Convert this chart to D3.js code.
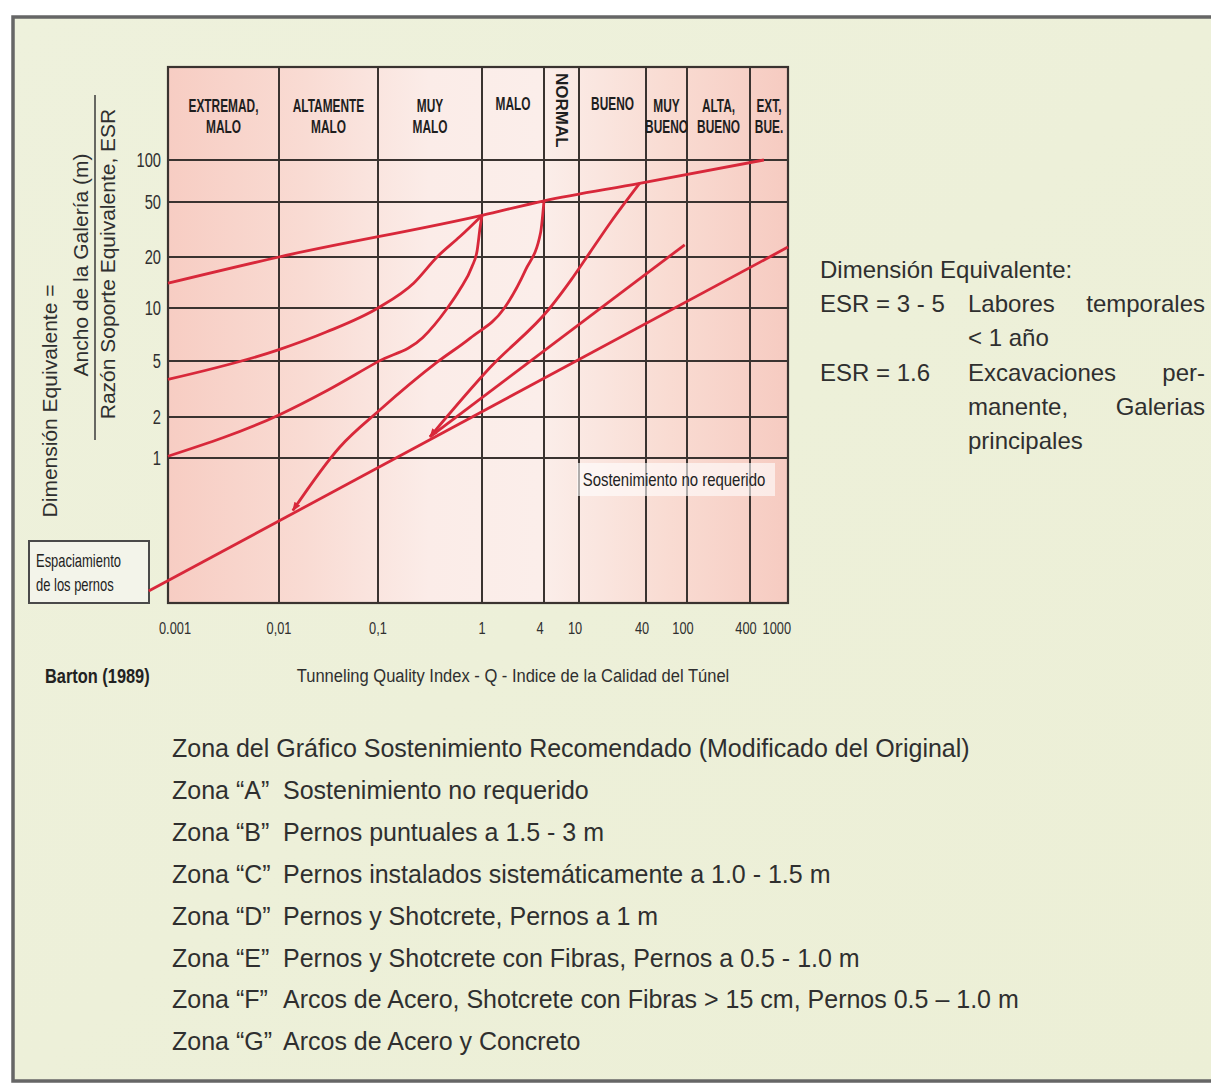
<!DOCTYPE html>
<html>
<head>
<meta charset="utf-8">
<script src="https://cdn.jsdelivr.net/npm/d3@7"></script>
<style>
  html, body { margin: 0; padding: 0; background: #fff; }
  svg { display: block; }
</style>
</head>
<body>
<script>
// Limites de Q (eje x) y etiquetas
const qTicks = [0.001, 0.01, 0.1, 1, 4, 10, 40, 100, 400, 1000];
const qTickLabels = ['0.001', '0,01', '0,1', '1', '4', '10', '40', '100', '400', '1000'];
// clases de roca del encabezado (una por intervalo de Q)
const rockClasses = [['EXTREMAD,', 'MALO'], ['ALTAMENTE', 'MALO'], ['MUY', 'MALO'], ['MALO'], ['NORMAL'],
  ['BUENO'], ['MUY', 'BUENO'], ['ALTA,', 'BUENO'], ['EXT,', 'BUE.']];
// dimension equivalente (eje y)
const deTicks = [100, 50, 20, 10, 5, 2, 1];
const deMin = 0.11;

// curvas [Q, De]
const lineTop = [[0.001, 14], [0.01, 20], [1, 40], [4, 51], [35, 68], [560, 100]];
const curveFG = [[0.001, 3.7], [0.01, 5.8], [0.03, 7.3], [0.1, 10], [0.22, 14], [0.37, 20], [0.61, 28], [1, 40]];
const curveEF = [[0.001, 1.03], [0.01, 2.07], [0.031, 3.1], [0.1, 4.95], [0.27, 6.8], [0.46, 9.9], [0.61, 12.8],
  [0.8, 17.5], [0.9, 22.5], [0.96, 33], [1, 40]];
const curveDE = [[0.0138, 0.45], [0.041, 1.2], [0.104, 2.24], [0.37, 4.9], [0.77, 6.75], [1.65, 10], [2.65, 16.8],
  [3.7, 29.8], [4, 51]];
const curveCD = [[0.316, 1.43], [1.21, 4.53], [4.67, 10], [8.1, 14.6], [12.6, 21.7], [19.4, 36], [35, 68]];
const lineBC = [[0.316, 1.43], [95, 24.5]];
const lineAB = [[0.00067, 0.132], [1000, 23.6]];

// textos
const esrLabels = ['ESR = 3 - 5', 'ESR = 1.6'];
const zoneTitle = 'Zona del Gráfico  Sostenimiento Recomendado (Modificado del Original)';
const zoneNames = ['Zona “A”', 'Zona “B”', 'Zona “C”', 'Zona “D”', 'Zona “E”', 'Zona “F”', 'Zona “G”'];
const zoneDesc = ['Sostenimiento no requerido', 'Pernos puntuales a 1.5 - 3 m',
  'Pernos instalados sistemáticamente a 1.0 - 1.5 m', 'Pernos y Shotcrete, Pernos a 1 m',
  'Pernos y Shotcrete con Fibras, Pernos a 0.5 - 1.0 m',
  'Arcos de Acero, Shotcrete con Fibras > 15 cm, Pernos 0.5 – 1.0 m', 'Arcos de Acero y Concreto'];

const W = 1211, H = 1085;
const svg = d3.select('body').append('svg').attr('width', W).attr('height', H);

// escalas (log por tramos para seguir la reticula del original)
const x = d3.scaleLog().domain(qTicks).range([168, 279, 378, 482, 544, 579, 646, 687, 750, 788]);
const y = d3.scaleLog().domain([deMin, 1, 2, 5, 10, 20, 50, 100]).range([603, 458, 417, 361, 308, 257, 202, 160]);
const plotTop = 67;
const x0 = x(qTicks[0]), x1 = x(qTicks[qTicks.length - 1]), yB = y(deMin);

const defs = svg.append('defs');
const grad = defs.append('linearGradient').attr('id', 'pink').attr('x1', 0).attr('x2', 1).attr('y1', 0).attr('y2', 0);
[[0, '#f7cdc3'], [0.22, '#f9dbd3'], [0.42, '#fbece8'], [0.6, '#fbeeea'], [0.8, '#f9dcd3'], [1, '#f6cbc1']]
  .forEach(s => grad.append('stop').attr('offset', s[0]).attr('stop-color', s[1]));
const bg = defs.append('linearGradient').attr('id', 'cream').attr('x1', 0).attr('x2', 1).attr('y1', 0).attr('y2', 1);
bg.append('stop').attr('offset', 0).attr('stop-color', '#eef1dc');
bg.append('stop').attr('offset', 1).attr('stop-color', '#ecefd6');
defs.append('marker').attr('id', 'arr').attr('viewBox', '0 0 10 10').attr('refX', 9).attr('refY', 5)
  .attr('markerWidth', 9).attr('markerHeight', 9).attr('markerUnits', 'userSpaceOnUse')
  .attr('orient', 'auto-start-reverse')
  .append('path').attr('d', 'M0,1 L10,5 L0,9 z').attr('fill', '#d8283a');

// marco general
svg.append('rect').attr('x', 13).attr('y', 17).attr('width', 1210).attr('height', 1064)
  .attr('fill', 'url(#cream)').attr('stroke', '#666').attr('stroke-width', 3.5);

// fondo del grafico
svg.append('rect').attr('x', x0).attr('y', plotTop).attr('width', x1 - x0).attr('height', yB - plotTop)
  .attr('fill', 'url(#pink)');

// reticula
const gridColor = '#3a3330';
svg.append('g').selectAll('line').data(qTicks).join('line')
  .attr('x1', d => x(d)).attr('x2', d => x(d)).attr('y1', plotTop).attr('y2', yB)
  .attr('stroke', gridColor).attr('stroke-width', 2);
svg.append('g').selectAll('line').data(deTicks).join('line')
  .attr('x1', x0).attr('x2', x1).attr('y1', d => y(d)).attr('y2', d => y(d))
  .attr('stroke', gridColor).attr('stroke-width', 2);
svg.append('rect').attr('x', x0).attr('y', plotTop).attr('width', x1 - x0).attr('height', yB - plotTop)
  .attr('fill', 'none').attr('stroke', gridColor).attr('stroke-width', 2.2);

// helper de texto (fuente condensada simulada con scale)
function txt(px, py, s, o = {}) {
  const g = svg.append('g').attr('transform',
    `translate(${px},${py})` + (o.rot ? ` rotate(${o.rot})` : '') + ` scale(${o.sx || 1},1)`);
  g.append('text').attr('text-anchor', o.anchor || 'start')
    .attr('font-family', 'Liberation Sans, Arial, Helvetica, sans-serif')
    .attr('font-size', o.size || 24).attr('font-weight', o.bold ? 'bold' : 'normal')
    .attr('fill', o.fill || '#2f2f2f').text(s);
  return g;
}

// encabezado de clases
rockClasses.forEach((lines, i) => {
  const cx = (x(qTicks[i]) + x(qTicks[i + 1])) / 2;
  if (lines[0] === 'NORMAL') {
    txt(cx - 6, 73, lines[0], { rot: 90, size: 17, bold: true, fill: '#1e1e1e' });
  } else if (lines.length === 1) {
    txt(cx, 110, lines[0], { anchor: 'middle', size: 18, sx: 0.66, bold: true, fill: '#1e1e1e' });
  } else {
    lines.forEach((l, j) => txt(cx, 112 + j * 21, l, { anchor: 'middle', size: 18, sx: 0.66, bold: true, fill: '#1e1e1e' }));
  }
});

// etiquetas de eje y
deTicks.forEach(v => txt(161, y(v) + 7, v, { anchor: 'end', size: 21, sx: 0.7 }));

// etiquetas de eje x
qTicks.forEach((q, i) => {
  const last = i === qTicks.length - 1;
  const dx = i === 0 ? 7 : (q >= 4 && !last ? -4 : 0);
  txt(x(q) + (last ? 3 : dx), 634, qTickLabels[i], { anchor: last ? 'end' : 'middle', size: 16, sx: 0.8 });
});

// titulos de ejes
txt(57, 401, 'Dimensión Equivalente =', { rot: -90, anchor: 'middle', size: 21 });
txt(88, 265, 'Ancho de la Galería (m)', { rot: -90, anchor: 'middle', size: 21 });
txt(115, 264, 'Razón Soporte Equivalente, ESR', { rot: -90, anchor: 'middle', size: 21 });
svg.append('line').attr('x1', 95).attr('x2', 95).attr('y1', 95).attr('y2', 440)
  .attr('stroke', '#3a3a3a').attr('stroke-width', 1.5);
txt(513, 682, 'Tunneling Quality Index - Q - Indice de la Calidad del Túnel', { anchor: 'middle', size: 19, sx: 0.87 });
txt(45, 683, 'Barton (1989)', { size: 21, sx: 0.78, bold: true, fill: '#222' });

// caja espaciamiento
svg.append('rect').attr('x', 29).attr('y', 541).attr('width', 120).attr('height', 62)
  .attr('fill', '#f3f4ea').attr('stroke', '#4a4a4a').attr('stroke-width', 2);
txt(36, 567, 'Espaciamiento', { size: 18, sx: 0.72, fill: '#222' });
txt(36, 591, 'de los pernos', { size: 18, sx: 0.72, fill: '#222' });

// etiqueta sostenimiento no requerido
svg.append('rect').attr('x', 577).attr('y', 463).attr('width', 198).attr('height', 33)
  .attr('fill', '#ffffff').attr('opacity', 0.6);
txt(674, 486, 'Sostenimiento no requerido', { anchor: 'middle', size: 18, sx: 0.83, fill: '#222' });

// curvas
const smooth = d3.line().x(d => x(d[0])).y(d => y(d[1])).curve(d3.curveMonotoneX);
const red = '#d8283a';
const curves = [
  { d: lineTop }, { d: curveFG }, { d: curveEF }, { d: curveDE, arrow: true },
  { d: curveCD, arrow: true }, { d: lineBC }, { d: lineAB }
];
svg.append('g').selectAll('path').data(curves).join('path')
  .attr('d', c => smooth(c.d)).attr('fill', 'none').attr('stroke', red).attr('stroke-width', 2.8)
  .attr('stroke-linejoin', 'round')
  .attr('marker-start', c => c.arrow ? 'url(#arr)' : null);

// texto derecho
txt(820, 278, 'Dimensión Equivalente:', { size: 24 });
txt(820, 312, esrLabels[0], { size: 24 });
txt(968, 312, 'Labores', { size: 24 });
txt(1205, 312, 'temporales', { size: 24, anchor: 'end' });
txt(968, 346, '< 1 año', { size: 24 });
txt(820, 381, esrLabels[1], { size: 24 });
txt(968, 381, 'Excavaciones', { size: 24 });
txt(1205, 381, 'per-', { size: 24, anchor: 'end' });
txt(968, 415, 'manente,', { size: 24 });
txt(1205, 415, 'Galerias', { size: 24, anchor: 'end' });
txt(968, 449, 'principales', { size: 24 });

// leyenda de zonas
txt(172, 757, zoneTitle, { size: 25 });
zoneNames.forEach((z, i) => {
  const by = 757 + (i + 1) * 41.9;
  txt(172, by, z, { size: 25 });
  txt(283, by, zoneDesc[i], { size: 25 });
});
</script>
</body>
</html>
